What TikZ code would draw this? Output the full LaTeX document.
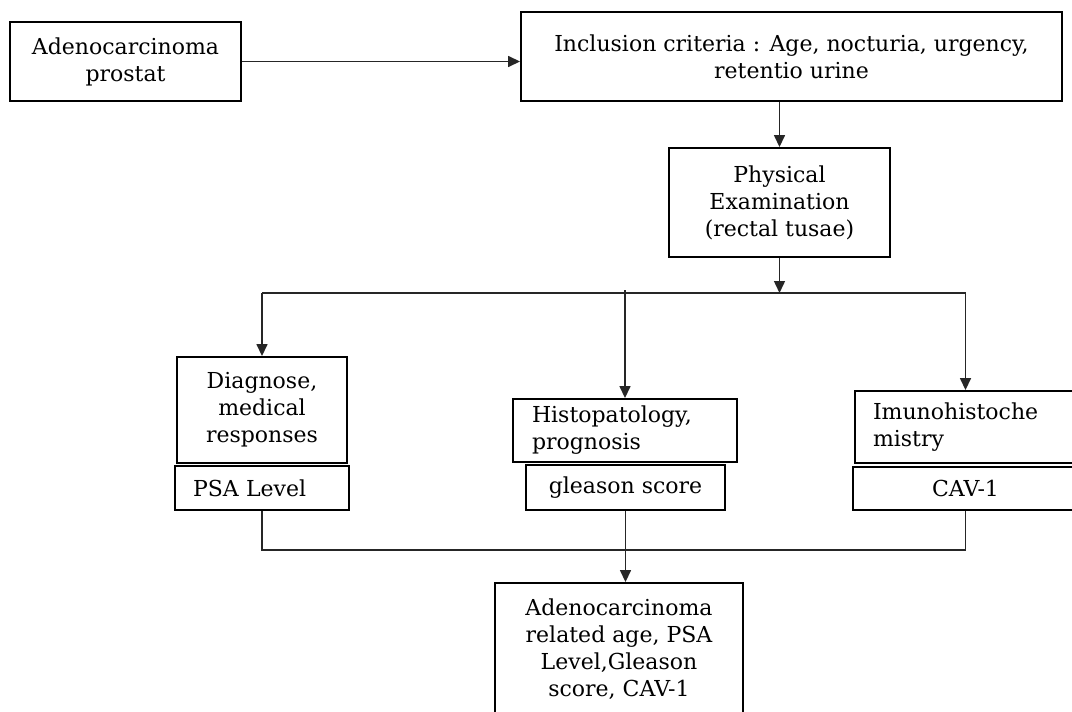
\documentclass[tikz,border=0pt]{standalone}
\usepackage{fontspec}
\setmainfont{DejaVu Serif}
\usetikzlibrary{arrows.meta}
\begin{document}
\begin{tikzpicture}[x=1pt,y=-1pt,
  box/.style={draw, line width=1.9pt, inner sep=0pt, align=center,
    font=\fontsize{22}{27}\selectfont},
  lbox/.style={box, align=left, inner xsep=18pt},
  conn/.style={line width=1.5pt, draw=black!85},
  arr/.style={conn, -{Triangle[length=12pt,width=11pt]}}]
\useasboundingbox (0,0) rectangle (1072,712);
\fill[white] (0,0) rectangle (1072,712);
% boxes
\node[box, minimum width=231, minimum height=79] (A) at (125.5,61.5) {Adenocarcinoma\\prostat};
\node[box, minimum width=541, minimum height=89] (B) at (791.5,56.5) {Inclusion criteria : Age, nocturia, urgency,\\retentio urine};
\node[box, minimum width=221, minimum height=109] (C) at (779.5,202.5) {Physical\\Examination\\(rectal tusae)};
\node[box, minimum width=170, minimum height=106] (D) at (262,410) {Diagnose,\\medical\\responses};
\node[lbox, text width=138pt, minimum height=44] (P) at (262,488) {PSA Level};
\node[lbox, inner xsep=19pt, text width=186pt, minimum height=63] (E) at (625,430.5) {Histopatology,\\prognosis};
\node[box, minimum width=199, minimum height=45] (Gl) at (625.5,487.5) {gleason score};
\node[lbox, text width=185pt, minimum height=72] (F) at (965.5,427) {Imunohistoche\\mistry};
\node[box, minimum width=225, minimum height=43] (V) at (965.5,488.5) {CAV-1};
\node[box, minimum width=248, minimum height=133] (G) at (619,649.5) {Adenocarcinoma\\related age, PSA\\Level,Gleason\\score, CAV-1};
% connectors
\coordinate (br) at (777,293);
\coordinate (m) at (619,550);
\draw[arr] (A.east) -- (A.east -| B.west);
\draw[arr] (B.south -| C.north) -- (C.north);
\draw[arr] (C.south) -- (C.south |- br);
\draw[conn] (D.north |- br) -- (F.north |- br);
\draw[arr] (D.north |- br) -- (D.north);
\draw[arr] ([yshift=3pt]E.north |- br) -- (E.north);
\draw[arr] (F.north |- br) -- (F.north);
\draw[conn] (P.south) |- (m) -| (V.south);
\draw[arr] (Gl.south) -- (Gl.south |- G.north);
\end{tikzpicture}
\end{document}
